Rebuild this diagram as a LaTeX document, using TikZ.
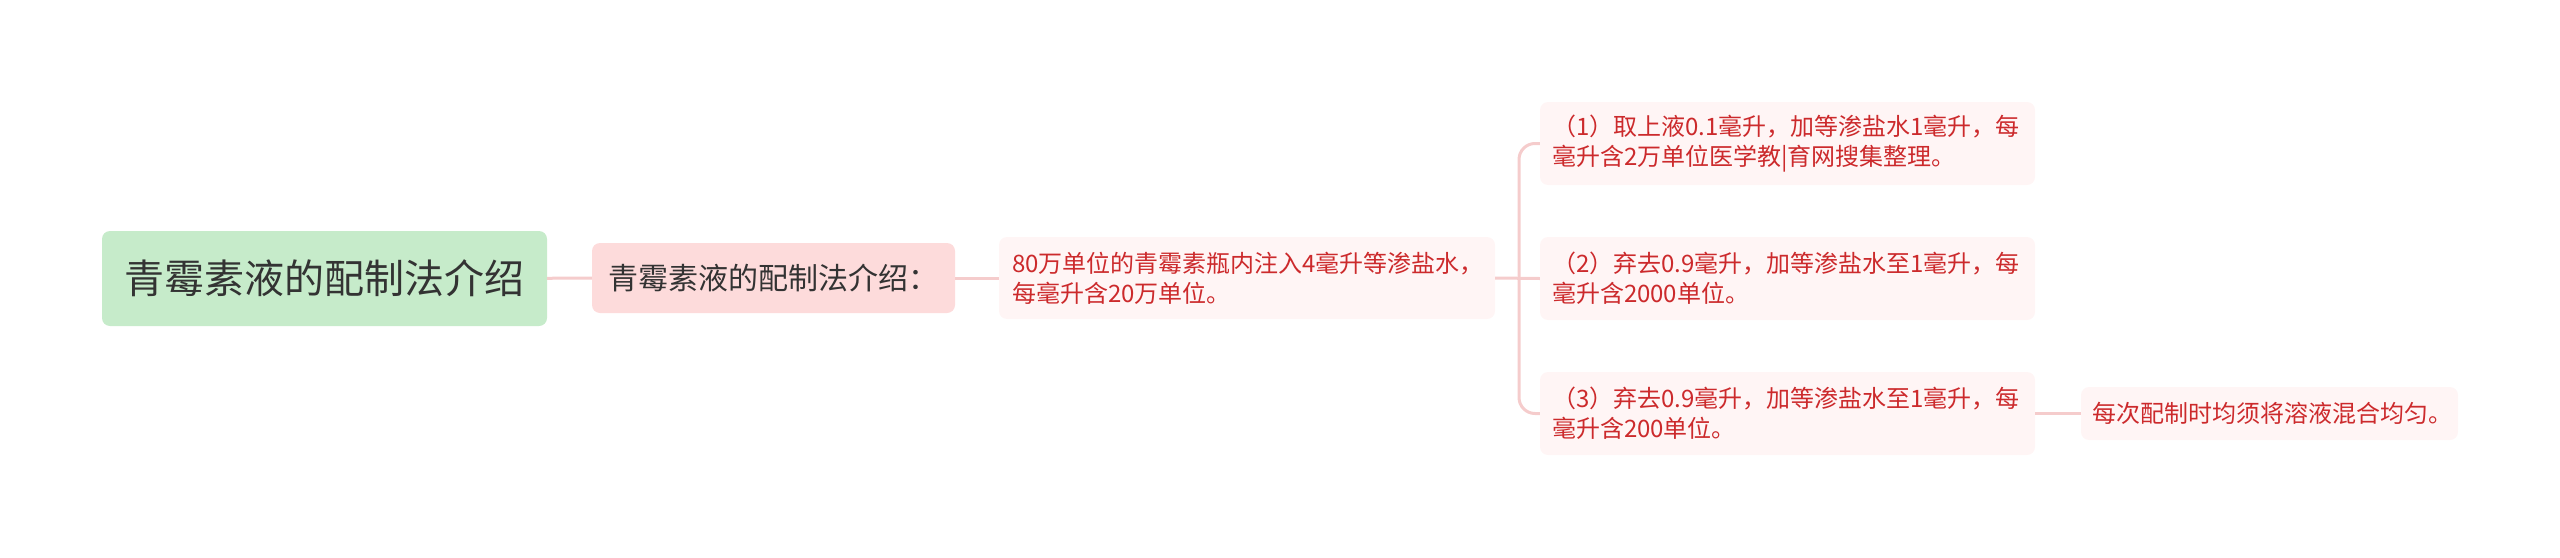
\documentclass[tikz,border=0pt]{standalone}
\usepackage{fontspec}
\newfontfamily\cjk{Noto Sans CJK SC}

\definecolor{rootgreen}{HTML}{C6EBCA}
\definecolor{intropink}{HTML}{FDDBDB}
\definecolor{descpink}{HTML}{FFF5F5}
\definecolor{textred}{HTML}{CC2A2C}
\definecolor{linkpink}{HTML}{F5CCCC}
\definecolor{darktext}{HTML}{333333}

\begin{document}
\begin{tikzpicture}[x=1pt, y=-1pt,
	link/.style={draw=linkpink, line width=3pt},
	rootbox/.style={fill=rootgreen, rounded corners=8pt, inner sep=0pt,
		minimum width=445pt, minimum height=95pt, text=darktext,
		font=\cjk\fontsize{40}{48}\selectfont},
	introbox/.style={fill=intropink, rounded corners=8pt, inner sep=0pt,
		minimum width=363pt, minimum height=70pt, text=darktext,
		font=\cjk\fontsize{30}{36}\selectfont},
	descbox/.style={fill=descpink, rounded corners=8pt, inner xsep=12pt, inner ysep=0pt,
		text width=471pt, align=left, minimum height=83pt, text=textred,
		font=\cjk\fontsize{24}{30}\selectfont},
	notebox/.style={descbox, inner xsep=11pt, text width=355pt, minimum height=53pt}]

	\useasboundingbox (0,0) rectangle (2560,557);

	% === NODES === (((
	\node[rootbox] (root) at (324.5,278.5) {青霉素液的配制法介绍};

	\node[introbox] (intro) at (773.5,278) {青霉素液的配制法介绍：};

	\node[descbox, inner xsep=13pt, text width=470pt, minimum height=82pt] (desc) at (1247,278)
		{80万单位的青霉素瓶内注入4毫升等渗盐水，\\每毫升含20万单位。};

	\node[descbox] (s1) at (1787.5,143.5) {（1）取上液0.1毫升，加等渗盐水1毫升，每\\毫升含2万单位医学教|育网搜集整理。};
	\node[descbox] (s2) at (1787.5,278.5) {（2）弃去0.9毫升，加等渗盐水至1毫升，每\\毫升含2000单位。};
	\node[descbox] (s3) at (1787.5,413.5) {（3）弃去0.9毫升，加等渗盐水至1毫升，每\\毫升含200单位。};

	\node[notebox] (note) at (2269.5,413.5) {每次配制时均须将溶液混合均匀。};

	\coordinate (fork) at (1519,278.5);
	% )))

	% === LINES === (((
	\draw[link] (root) -- (intro);
	\draw[link] (intro) -- (desc);

	\draw[link] (desc.east) -- (s2.west);
	\draw[link, rounded corners=16pt] (s1.west) -| (fork) |- (s3.west);

	\draw[link] (s3) -- (note);
	% )))

\end{tikzpicture}
\end{document}
